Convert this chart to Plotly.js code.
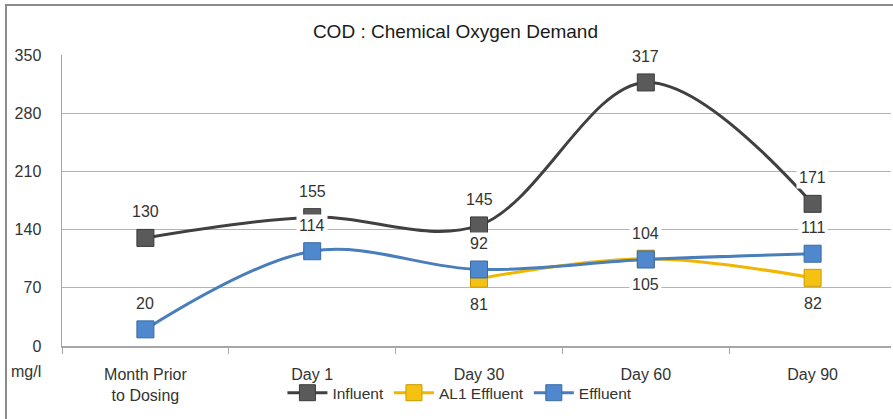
<!DOCTYPE html>
<html>
<head>
<meta charset="utf-8">
<script src="https://cdn.plot.ly/plotly-3.0.1.min.js"></script>
<style>
  html, body { margin: 0; padding: 0; background: #fff; overflow: hidden; }
  #chart { width: 893px; height: 419px; }
  #frame { position: absolute; left: 5px; top: 4px; width: 920px; height: 440px;
           border: 2px solid #8c8c8c; pointer-events: none; box-sizing: border-box; }
</style>
</head>
<body>
<div id="chart"></div>
<div id="frame"></div>
<script>
const categories = ['Month Prior<br>to Dosing', 'Day 1', 'Day 30', 'Day 60', 'Day 90'];
const influent = [130, 155, 145, 317, 171];
const al1Effluent = [null, null, 81, 105, 82];
const effluent = [20, 114, 92, 104, 111];
const yTicks = [0, 70, 140, 210, 280, 350];

const textColor = '#333333';
const fontFamily = '"Liberation Sans", Arial, sans-serif';

function series(name, y, lineColor, markerColor, markerLine) {
  return {
    type: 'scatter', mode: 'lines+markers', name: name,
    x: categories, y: y,
    line: { color: lineColor, width: 3, shape: 'spline', smoothing: 1 },
    marker: { symbol: 'square', size: 17, color: markerColor,
              line: { color: markerLine, width: 1 } },
    connectgaps: false, cliponaxis: false
  };
}

const traces = [
  series('Influent', influent, '#404040', '#5a5a5a', '#3a3a3a'),
  series('AL1 Effluent', al1Effluent, '#f2b600', '#f5c211', '#c89a00'),
  series('Effluent', effluent, '#4a7ebb', '#4f88cc', '#3a6aa6')
];

function labels(y, shift) {
  const out = [];
  y.forEach((v, i) => {
    if (v === null) return;
    out.push({
      x: categories[i], y: v, xref: 'x', yref: 'y',
      text: String(v), showarrow: false, yshift: shift,
      bgcolor: '#ffffff', borderpad: 2,
      font: { family: fontFamily, size: 16, color: '#333333' }
    });
  });
  return out;
}

const annotations = [].concat(
  labels(influent, 26),
  labels(effluent, 26),
  labels(al1Effluent, -26),
  [{
    text: 'mg/l', xref: 'paper', yref: 'paper', x: -0.064, y: -0.086,
    xanchor: 'left', yanchor: 'middle', showarrow: false,
    font: { family: fontFamily, size: 16, color: textColor }
  }]
);

const layout = {
  width: 893, height: 419,
  margin: { l: 62, r: 2, t: 55, b: 73 },
  paper_bgcolor: '#ffffff', plot_bgcolor: '#ffffff',
  font: { family: fontFamily, size: 16, color: textColor },
  title: {
    text: 'COD : Chemical Oxygen Demand',
    font: { family: fontFamily, size: 19, color: '#1a1a1a' },
    x: 0.51, xanchor: 'center', y: 0.924, yanchor: 'middle', yref: 'container'
  },
  showlegend: true,
  legend: {
    orientation: 'h', x: 0.48, xanchor: 'center', y: -0.162, yanchor: 'middle',
    font: { family: fontFamily, size: 15.5, color: textColor },
    bgcolor: 'rgba(0,0,0,0)', itemwidth: 40, traceorder: 'normal'
  },
  xaxis: {
    type: 'category', range: [-0.5, 4.47],
    showgrid: false, zeroline: false,
    showline: true, linecolor: '#a6a6a6', linewidth: 1.5,
    ticks: 'outside', tickson: 'boundaries', ticklen: 6, tickcolor: '#a6a6a6',
    ticklabelstandoff: 13,
    tickfont: { family: fontFamily, size: 16, color: textColor },
    fixedrange: true
  },
  yaxis: {
    range: [0, 350], tickvals: yTicks, ticktext: yTicks.map(String),
    showgrid: true, gridcolor: '#b3b3b3', gridwidth: 1.2,
    zeroline: false, showline: true, linecolor: '#a6a6a6', linewidth: 1.5,
    ticks: '', ticklabelstandoff: 16,
    tickfont: { family: fontFamily, size: 16, color: textColor },
    fixedrange: true
  },
  annotations: annotations
};

Plotly.newPlot('chart', traces, layout, { displayModeBar: false, staticPlot: true });
</script>
</body>
</html>
